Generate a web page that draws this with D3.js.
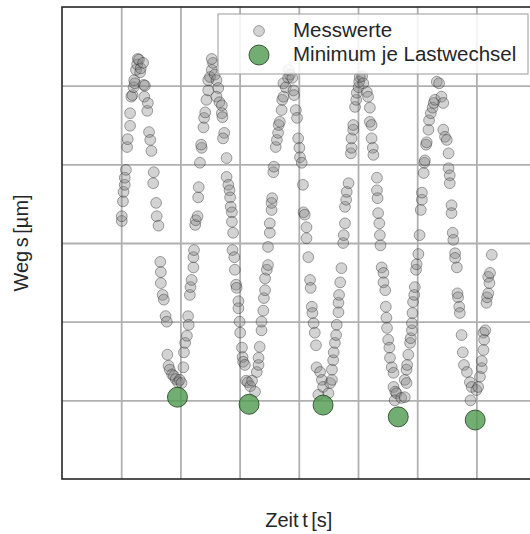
<!DOCTYPE html>
<html lang="de">
	<head>
		<meta charset="utf-8">
		<title>Weg über Zeit</title>
		<script type="text/javascript" src="https://d3js.org/d3.v7.min.js"></script>
		<style>
			body { margin: 0; background: #fff; }
			text { font-family: "Liberation Sans", Arial, sans-serif; fill: #262626; }
		</style>
	</head>
	<body>
		<svg id="chart"></svg>
		<script>

			var messT = [
				1.01,1.01,1.03,1.04,1.06,1.06,1.08,1.10,1.11,1.15,1.15,1.17,1.19,1.21,1.22,1.23,1.25,1.27,1.28,1.30,1.32,1.33,1.37,
				1.38,1.40,1.39,1.44,1.45,1.47,1.49,1.51,1.55,1.54,1.59,1.60,1.63,1.66,1.67,1.67,1.70,1.72,1.75,1.77,1.78,1.80,1.82,1.86,1.89,1.92,1.96,1.99,2.02,
				2.05,2.06,2.08,2.11,2.13,2.14,2.16,2.17,2.19,2.22,2.22,2.23,2.25,2.26,2.29,2.30,2.31,2.33,2.36,2.35,2.39,2.40,2.42,2.44,2.47,2.47,2.50,2.53,2.55,2.53,2.58,2.61,
				2.64,2.61,2.66,2.70,2.70,2.71,2.74,2.72,2.78,2.78,2.81,2.83,2.84,2.85,2.87,2.87,2.89,2.88,2.91,2.92,2.94,2.95,2.98,2.98,3.00,3.01,3.04,3.05,3.06,3.09,3.11,3.14,3.18,3.21,
				3.26,3.29,3.32,3.32,3.34,3.37,3.37,3.40,3.41,3.43,3.43,3.46,3.48,3.48,3.51,3.51,3.54,3.54,3.55,3.57,3.58,3.61,3.63,3.65,3.66,3.68,3.71,3.72,3.74,3.74,3.78,3.82,3.85,3.83,3.89,
				3.91,3.92,3.95,3.97,3.99,4.01,4.02,4.05,4.07,4.08,4.10,4.13,4.13,4.16,4.19,4.20,4.22,4.23,4.25,4.27,4.29,4.30,4.33,4.36,4.39,4.41,
				4.50,4.53,4.56,4.56,4.58,4.59,4.61,4.63,4.64,4.67,4.67,4.68,4.70,4.72,4.75,4.76,4.78,4.78,4.80,4.81,4.84,4.88,4.89,4.89,4.92,4.92,4.95,4.97,4.98,5.01,5.02,5.03,5.07,
				5.09,5.15,5.17,5.20,5.20,5.23,5.23,5.25,5.26,5.32,5.32,5.33,5.34,5.36,5.37,5.38,5.40,5.43,5.43,5.46,5.47,5.48,5.49,5.51,5.53,5.54,5.57,5.60,5.60,5.63,5.65,5.62,5.73,
				5.79,5.79,5.82,5.82,5.83,5.85,5.88,5.89,5.91,5.91,5.92,5.93,5.95,5.96,5.98,5.99,6.02,6.04,6.06,6.08,6.08,6.11,6.12,6.13,6.15,6.16,6.19,6.20,6.23,6.26,6.28,6.30,6.33,6.37,
				6.41,6.44,6.44,6.47,6.50,6.53,6.53,6.55,6.55,6.58,6.58,6.60,6.61,6.64,6.64,6.67,6.68,6.69,6.71,6.72,6.75,6.77,6.79,6.84,6.89,6.92,6.90,
				7.00,7.03,7.06,7.09,7.09,7.12,7.12,7.13,7.15,7.17,7.18,7.20,7.20,7.22,7.23,7.26
			];
			var messS = [
				3.28,3.34,3.53,3.65,3.74,3.83,3.93,4.22,4.32,4.49,4.65,4.86,4.88,4.98,5.07,5.03,5.20,5.27,5.34,5.33,5.17,5.22,5.29,
				5.01,5.00,4.86,4.68,4.78,4.41,4.31,4.17,3.90,3.76,3.51,3.34,3.22,2.76,2.63,2.49,2.34,2.28,2.07,2.00,1.58,1.44,1.39,1.33,1.31,1.27,1.23,1.26,1.22,
				1.42,1.61,1.73,1.82,2.07,1.96,2.34,2.44,2.53,2.69,2.82,2.91,3.23,3.29,3.34,3.58,3.71,4.02,4.21,4.25,4.47,4.59,4.66,4.82,4.94,5.07,5.11,5.20,5.29,5.34,5.14,5.07,
				4.97,4.86,4.79,4.75,4.65,4.60,4.40,4.33,4.08,3.84,3.74,3.67,3.58,3.46,3.39,3.27,3.13,2.91,2.82,2.66,2.47,2.43,2.26,2.17,2.00,1.86,1.67,1.55,1.49,1.45,1.25,1.23,1.18,1.25,
				1.11,1.36,1.45,1.54,1.68,1.89,2.00,2.14,2.30,2.40,2.55,2.66,2.72,2.95,3.13,3.25,3.42,3.51,3.57,3.90,3.97,4.22,4.31,4.40,4.50,4.54,4.69,4.82,4.86,5.03,4.98,5.10,5.14,5.20,5.10,
				4.94,4.88,4.69,4.59,4.33,4.21,4.09,4.02,3.74,3.39,3.36,3.20,3.06,2.82,2.53,2.43,2.19,2.11,1.98,1.86,1.70,1.42,1.07,1.36,1.26,1.17,
				1.09,1.22,1.26,1.39,1.51,1.61,1.73,1.83,1.96,2.12,2.24,2.34,2.50,2.68,3.00,3.10,3.25,3.46,3.55,3.65,3.76,4.14,4.21,4.33,4.44,4.50,4.73,4.82,4.91,4.98,5.05,5.11,5.12,
				5.03,4.92,4.86,4.72,4.54,4.50,4.33,4.21,4.12,3.83,3.67,3.57,3.38,3.25,3.10,2.97,2.69,2.62,2.50,2.40,2.19,2.05,1.92,1.77,1.67,1.54,1.42,1.35,1.17,1.11,1.09,1.00,1.03,
				1.04,1.26,1.22,1.39,1.45,1.58,1.73,1.79,1.89,1.98,2.11,2.25,2.34,2.44,2.66,2.73,2.86,3.10,3.42,3.55,3.64,3.89,4.02,4.05,4.25,4.28,4.44,4.56,4.65,4.72,4.78,4.82,5.05,5.03,
				4.86,4.78,4.44,4.35,4.31,4.14,3.95,3.86,3.76,3.48,3.38,3.13,3.04,2.87,2.81,2.69,2.36,2.31,2.19,2.11,1.83,1.61,1.45,1.36,1.23,1.17,1.00,
				1.13,1.17,1.30,1.41,1.50,1.64,1.86,1.77,1.89,2.24,2.31,2.36,2.57,2.49,2.62,2.85
			];

			// Minimum je Lastwechsel
			var minT = [1.95, 3.16, 4.41, 5.68, 6.98];
			var minS = [1.04, 0.95, 0.94, 0.79, 0.75];

			var legendLabels = ["Messwerte", "Minimum je Lastwechsel"];

			var width = 530;
			var height = 534;
			var border = {left: 62, top: 7, bottom: 55};
			var plotRight = 535.6;

			var svg = d3.select("#chart")
				.attr("width", width)
				.attr("height", height);

			var xScale = d3.scaleLinear()
				.domain([0, 8])
				.range([border.left, plotRight]);

			var yScale = d3.scaleLinear()
				.domain([0, 6])
				.range([height - border.bottom, border.top]);

			// grid, no tick labels
			svg.append("g")
				.attr("class", "grid x")
				.attr("transform", "translate(0," + (height - border.bottom) + ")")
				.call(d3.axisBottom(xScale)
					.tickValues(d3.range(1, 8))
					.tickSize(-(height - border.bottom - border.top))
					.tickFormat(""))
				.call(g => g.select(".domain").remove())
				.call(g => g.selectAll("line").attr("stroke", "#b0b0b0").attr("stroke-width", 1.8));

			svg.append("g")
				.attr("class", "grid y")
				.attr("transform", "translate(" + border.left + ",0)")
				.call(d3.axisLeft(yScale)
					.tickValues(d3.range(1, 6))
					.tickSize(-(plotRight - border.left))
					.tickFormat(""))
				.call(g => g.select(".domain").remove())
				.call(g => g.selectAll("line").attr("stroke", "#b0b0b0").attr("stroke-width", 1.8));

			// frame
			svg.append("rect")
				.attr("x", border.left)
				.attr("y", border.top)
				.attr("width", plotRight - border.left)
				.attr("height", height - border.bottom - border.top)
				.attr("fill", "none")
				.attr("stroke", "#262626")
				.attr("stroke-width", 1.6);

			var mess = messT.map((t, i) => [t, messS[i]]);
			var minima = minT.map((t, i) => [t, minS[i]]);

			svg.append("g")
				.attr("id", "mess")
				.selectAll("circle")
				.data(mess)
				.enter()
				.append("circle")
				.attr("cx", d => xScale(d[0]))
				.attr("cy", d => yScale(d[1]))
				.attr("r", 5.4)
				.attr("fill", "#808080")
				.attr("fill-opacity", 0.35)
				.attr("stroke", "#222")
				.attr("stroke-opacity", 0.5)
				.attr("stroke-width", 0.8);

			svg.append("g")
				.attr("id", "minima")
				.selectAll("circle")
				.data(minima)
				.enter()
				.append("circle")
				.attr("cx", d => xScale(d[0]))
				.attr("cy", d => yScale(d[1]))
				.attr("r", 10)
				.attr("fill", "#4f9a4f")
				.attr("fill-opacity", 0.8)
				.attr("stroke", "#1f3f1f")
				.attr("stroke-opacity", 0.8)
				.attr("stroke-width", 1);

			// legend
			var legend = svg.append("g").attr("id", "legend");
			legend.append("rect")
				.attr("x", 218)
				.attr("y", 14)
				.attr("width", 310)
				.attr("height", 60)
				.attr("fill", "#fff")
				.attr("fill-opacity", 0.85)
				.attr("stroke", "#999")
				.attr("stroke-width", 1);

			legend.append("circle")
				.attr("cx", 259).attr("cy", 31).attr("r", 5.4)
				.attr("fill", "#808080").attr("fill-opacity", 0.35)
				.attr("stroke", "#222").attr("stroke-opacity", 0.5).attr("stroke-width", 0.8);
			legend.append("circle")
				.attr("cx", 259).attr("cy", 55).attr("r", 10)
				.attr("fill", "#4f9a4f").attr("fill-opacity", 0.8)
				.attr("stroke", "#1f3f1f").attr("stroke-opacity", 0.8).attr("stroke-width", 1);

			legend.selectAll("text")
				.data(legendLabels)
				.enter()
				.append("text")
				.attr("x", 293)
				.attr("y", (d, i) => 37 + i * 24)
				.attr("font-size", 20.5)
				.text(d => d);

			// axis labels
			svg.append("text")
				.attr("x", (border.left + plotRight) / 2)
				.attr("y", 527)
				.attr("text-anchor", "middle")
				.attr("font-size", 20)
				.attr("word-spacing", -2)
				.text("Zeit t [s]");

			svg.append("text")
				.attr("transform", "translate(28," + ((border.top + height - border.bottom) / 2) + ") rotate(-90)")
				.attr("text-anchor", "middle")
				.attr("font-size", 20)
				.attr("word-spacing", -2)
				.text("Weg s [µm]");
		</script>
	</body>
</html>
